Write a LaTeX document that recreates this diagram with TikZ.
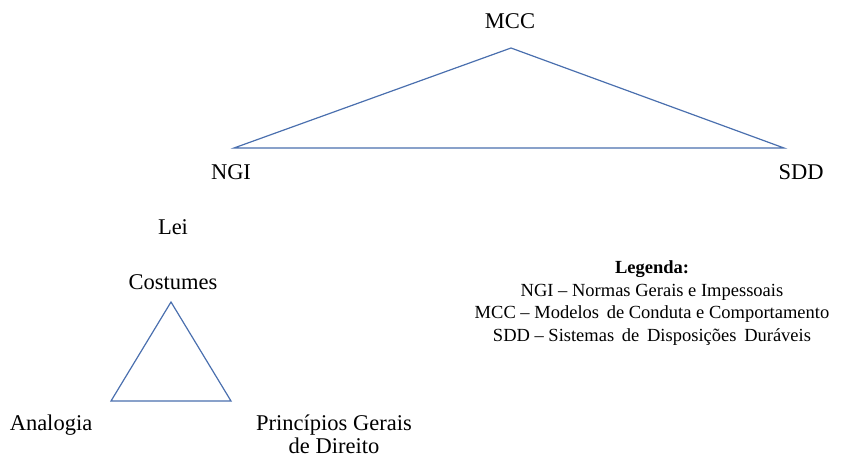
\documentclass[tikz,border=0pt]{standalone}
\usepackage{fontspec}
\setmainfont{Liberation Serif}
\begin{document}
\begin{tikzpicture}[x=1pt,y=-1pt,
  lbl/.style={inner sep=0pt,anchor=base,font=\fontsize{22.5}{29}\selectfont},
  leg/.style={inner sep=0pt,anchor=base,font=\fontsize{18.5}{22}\selectfont},
  tri/.style={draw=triblue,line width=1.2pt,line join=miter}]
\definecolor{triblue}{HTML}{4A6FAE}
\useasboundingbox (0,0) rectangle (852,456);
% large triangle
\coordinate (mcc) at (511,48);
\coordinate (ngi) at (234,148);
\coordinate (sdd) at (784,148);
\draw[tri] (mcc) -- (ngi) -- (sdd) -- cycle;
\node[lbl] (tmcc) at (510,28) {MCC};
\node[lbl] (tngi) at (231,179) {NGI};
\node[lbl] (tsdd) at (801,179) {SDD};
\node[lbl] (lei) at (173,234) {Lei};
% small triangle
\coordinate (ct) at (171,302);
\coordinate (an) at (111,401);
\coordinate (pg) at (231,401);
\draw[tri] (ct) -- (an) -- (pg) -- cycle;
\node[lbl] (tct) at (173,289) {Costumes};
\node[lbl] (tan) at (51,430) {Analogia};
\node[lbl] (tpg) at (334,430) {Princípios Gerais};
\node[lbl] (tpg2) at (334,453) {de Direito};
% legend
\node[leg,font=\fontsize{18.5}{22}\selectfont\bfseries] (leg) at (652,273) {Legenda:};
\node[leg] (l1) at (652,296) {NGI – Normas Gerais e Impessoais};
\node[leg] (l2) at (652,318) {MCC – Modelos\, de Conduta e Comportamento};
\node[leg] (l3) at (652,341) {SDD – Sistemas\, de\, Disposições\, Duráveis};
\end{tikzpicture}
\end{document}
